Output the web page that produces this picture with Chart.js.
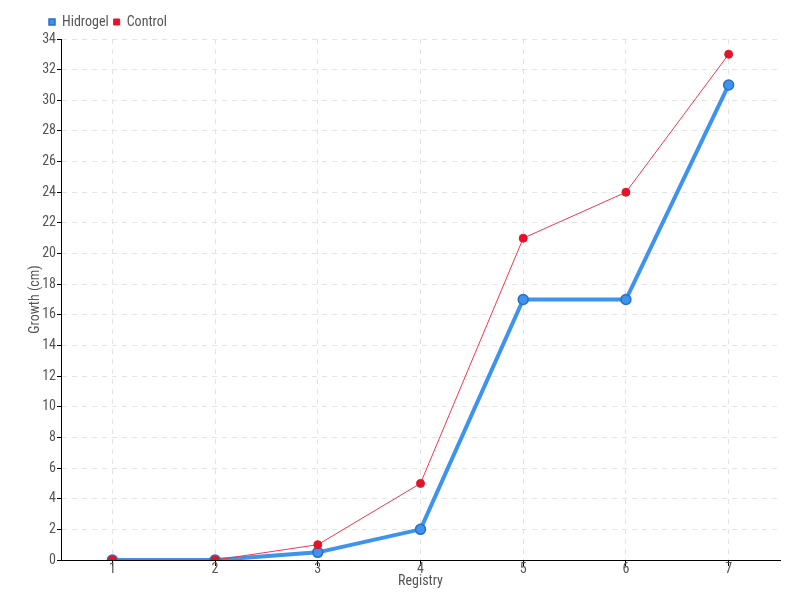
<!DOCTYPE html>
<html>
<head>
<meta charset="utf-8">
<script src="https://cdn.jsdelivr.net/npm/chart.js@4"></script>
<style>
  body { margin: 0; background: #fff; }
</style>
</head>
<body>
<canvas id="chart" width="800" height="600"></canvas>
<script>
const registry = ['1', '2', '3', '4', '5', '6', '7'];
const hidrogel = [0, 0, 0.5, 2, 17, 17, 31];
const control = [0, 0, 1, 5, 21, 24, 33];

Chart.defaults.font.family = '"Liberation Sans Narrow", "Roboto Condensed", "DejaVu Sans Condensed", Roboto, sans-serif';
Chart.defaults.font.size = 14;
Chart.defaults.color = '#555';

// nudge the legend to the right, the way the original sits
const legendShift = {
    id: 'legendShift',
    afterLayout(chart) {
        const lg = chart.legend;
        if (lg) {
            lg.left += 22;
            lg.right += 22;
        }
    }
};

const ctx = document.getElementById('chart').getContext('2d');
new Chart(ctx, {
    type: 'line',
    data: {
        labels: registry,
        datasets: [
            {
                label: 'Hidrogel',
                data: hidrogel,
                borderColor: '#3d93ee',
                backgroundColor: '#3d93ee',
                pointBorderColor: '#2a6fc4',
                pointBackgroundColor: '#3d93ee',
                borderWidth: 4,
                pointRadius: 5,
                pointBorderWidth: 1.5,
                tension: 0,
                fill: false,
                order: 1,
            },
            {
                label: 'Control',
                data: control,
                borderColor: '#f5364c',
                backgroundColor: '#e3142a',
                pointBorderColor: '#e3142a',
                pointBackgroundColor: '#e3142a',
                borderWidth: 1,
                pointRadius: 4,
                pointBorderWidth: 1,
                tension: 0,
                fill: false,
                order: 0,
            },
        ],
    },
    options: {
        responsive: false,
        animation: false,
        layout: { padding: { left: 22, right: 20, top: 10, bottom: 10 } },
        plugins: {
            legend: {
                align: 'start',
                labels: {
                    usePointStyle: true,
                    pointStyle: 'rect',
                    boxWidth: 6,
                    boxHeight: 6,
                    padding: 5,
                    color: '#555',
                    sort: (a, b) => a.datasetIndex - b.datasetIndex,
                },
            },
            tooltip: { enabled: false },
        },
        scales: {
            x: {
                offset: true,
                title: { display: true, text: 'Registry', padding: { top: 0, bottom: 0 } },
                grid: {
                    color: '#e4e4e4',
                    tickColor: '#000',
                    tickLength: 6,
                },
                border: { color: '#000', dash: [5, 5] },
                ticks: { padding: -5 },
                afterFit: (scale) => { scale.height = 30; },
            },
            y: {
                min: 0,
                max: 34,
                ticks: { stepSize: 2, padding: 1 },
                title: { display: true, text: 'Growth (cm)', padding: { top: 5, bottom: 0 } },
                grid: {
                    color: '#e4e4e4',
                    tickColor: '#000',
                    tickLength: 4,
                },
                border: { color: '#000', dash: [5, 5] },
                afterFit: (scale) => { scale.width = 39; },
            },
        },
    },
    plugins: [legendShift],
});
</script>
</body>
</html>
